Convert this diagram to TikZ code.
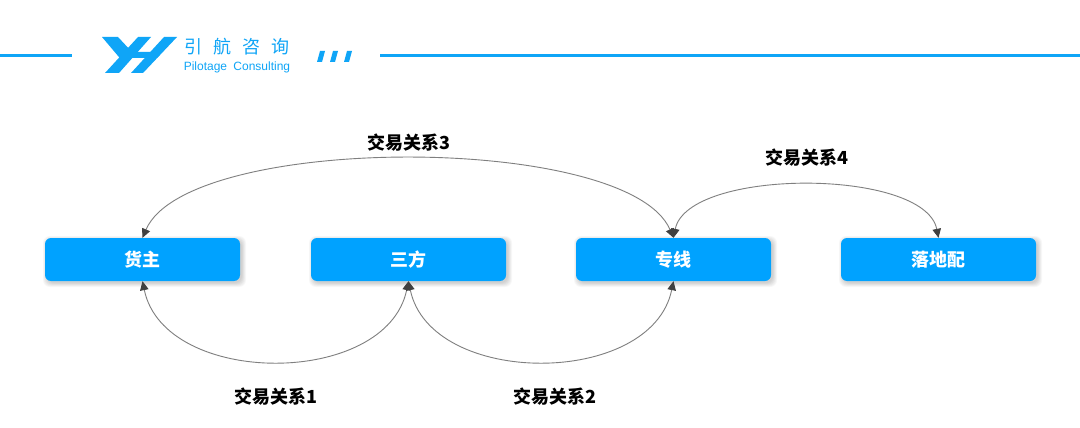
\documentclass[tikz,border=0pt]{standalone}
\usepackage{fontspec}
\setmainfont{Noto Sans CJK SC}
\newfontfamily\latinlogo{Liberation Sans}
\usetikzlibrary{arrows.meta}
\definecolor{boxblue}{HTML}{00A2FF}
\definecolor{logoblue}{HTML}{0FA5F7}
\definecolor{arcgrey}{HTML}{7F7F7F}
\definecolor{tipgrey}{HTML}{404040}
\tikzset{
  boxnode/.style={rectangle,rounded corners=6pt,fill=boxblue,text=white,font=\fontsize{18}{20}\selectfont\bfseries,minimum width=195pt,minimum height=43pt,inner sep=0pt},
  glow/.style={rectangle,rounded corners=7pt,fill=black,opacity=0.03,inner sep=0pt},
  arcboth/.style={draw=arcgrey,line width=0.9pt,{Triangle[length=9pt,width=8.5pt,fill=tipgrey,color=tipgrey]}-{Triangle[length=9pt,width=8.5pt,fill=tipgrey,color=tipgrey]}},
  lab/.style={font=\fontsize{18}{20}\selectfont\bfseries,text=black,inner sep=0pt},
  logo/.style={fill=logoblue,draw=none},
  rulebar/.style={draw=logoblue,line width=3pt}
}
\begin{document}
\begin{tikzpicture}[x=1pt,y=-1pt]
\useasboundingbox[fill=white] (0,0) rectangle (1080,428);
% header
\coordinate (l1) at (0,55.5); \coordinate (l2) at (72,55.5);
\coordinate (r1) at (380,55.5); \coordinate (r2) at (1080,55.5);
\draw[rulebar] (l1) -- (l2);
\draw[rulebar] (r1) -- (r2);
\fill[logo] (102,37) -- (118,37) -- (132,52) -- (124,63) -- cycle;
\fill[logo] (138,37) -- (151,37) -- (119,73) -- (105,73) -- cycle;
\fill[logo] (164,37) -- (177,37) -- (143,73) -- (131,73) -- cycle;
\fill[logo] (134,52) -- (162,52) -- (157,58) -- (129,58) -- cycle;
\fill[logo] (320,51) -- (325,51) -- (322,62) -- (317,62) -- cycle;
\fill[logo] (333,51) -- (338,51) -- (335,62) -- (330,62) -- cycle;
\fill[logo] (347,51) -- (352,51) -- (349,62) -- (344,62) -- cycle;
\node[text=logoblue,inner sep=0pt,font=\fontsize{18}{20}\selectfont] (brand) at (237,47) {引\hspace{11pt}航\hspace{11pt}咨\hspace{11pt}询};
\node[text=logoblue,inner sep=0pt,font=\latinlogo\fontsize{12}{13}\selectfont] (brandlat) at (237,67.5) {Pilotage\hspace{3pt} Consulting};
% shadows
\foreach \cx in {142.5,408.5,673.5,938.5}{
  \foreach \d in {0,1,2,3,4,5}{
    \node[glow,minimum width=195pt+\d*1.6pt,minimum height=43pt+\d*1.6pt] at (\cx+2,261.5) {};
  }
}
% boxes
\node[boxnode] (a) at (142.5,259.5) {货主};
\node[boxnode] (b) at (408.5,259.5) {三方};
\node[boxnode] (c) at (673.5,259.5) {专线};
\node[boxnode] (d) at (938.5,259.5) {落地配};
% arcs
\draw[arcboth] (a.north) .. controls +(45,-105) and +(-45,-105) .. (c.north);
\draw[arcboth] (c.north) .. controls +(14,-70) and +(-14,-70) .. (d.north);
\draw[arcboth] (a.south) .. controls +(22,106.5) and +(-22,106.5) .. (b.south);
\draw[arcboth] (b.south) .. controls +(22,106.5) and +(-22,106.5) .. (c.south);
% labels
\node[lab] (t3) at (408.5,142.5) {交易关系3};
\node[lab] (t4) at (807,157.5) {交易关系4};
\node[lab] (t1) at (275.5,396.5) {交易关系1};
\node[lab] (t2) at (555,396.5) {交易关系2};
\end{tikzpicture}
\end{document}
